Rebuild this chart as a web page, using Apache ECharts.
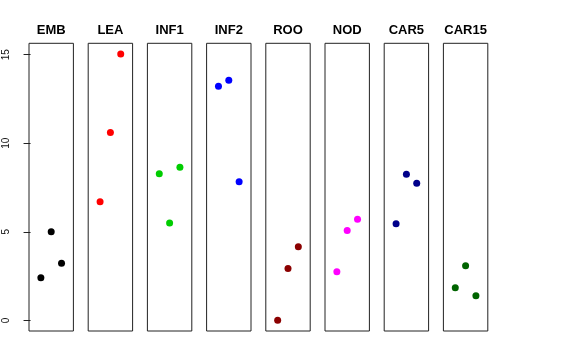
<!DOCTYPE html>
<html><head><meta charset="utf-8">
<script src="https://cdn.jsdelivr.net/npm/echarts@6/dist/echarts.min.js"></script>
<style>html,body{margin:0;padding:0;background:#fff}#c{width:576px;height:360px}</style>
</head><body><div id="c"></div>
<script>
const panels = ['EMB','LEA','INF1','INF2','ROO','NOD','CAR5','CAR15'];
const xPos = [1, 2, 3];
const EMB = [2.40, 5.00, 3.23];
const LEA = [6.69, 10.60, 15.04];
const INF1 = [8.27, 5.50, 8.64];
const INF2 = [13.21, 13.55, 7.82];
const ROO = [0.00, 2.93, 4.15];
const NOD = [2.74, 5.07, 5.71];
const CAR5 = [5.45, 8.25, 7.74];
const CAR15 = [1.84, 3.08, 1.39];
const yTicks = [0, 5, 10, 15];
const values = [EMB, LEA, INF1, INF2, ROO, NOD, CAR5, CAR15];
const colors = ['#000000','#FF0000','#00CD00','#0000FF','#8B0000','#FF00FF','#00008B','#006400'];

const chart = echarts.init(document.getElementById('c'), null, {renderer:'canvas'});
const L0 = 29, STEP = 59.2, W = 44.4, TOP = 43.3, H = 287.7;
const grids = [], xAxes = [], yAxes = [], series = [], titles = [];
panels.forEach((p, i) => {
  const left = L0 + i * STEP;
  grids.push({left: left, top: TOP, width: W, height: H, show: true, borderColor: '#222', borderWidth: 1, backgroundColor: 'transparent'});
  xAxes.push({gridIndex: i, type: 'value', min: -0.15, max: 4.15, show: false});
  yAxes.push({gridIndex: i, type: 'value', min: -0.6, max: 15.64, show: i === 0,
    axisLine: {show: false}, splitLine: {show: false},
    axisTick: {show: true, inside: false, length: 7, lineStyle: {color: '#222'}, customValues: yTicks},
    axisLabel: {show: true, rotate: 90, margin: 18, color: '#111', fontSize: 10, fontFamily: 'Liberation Sans, Arial, sans-serif', customValues: yTicks}
  });
  titles.push({text: p, left: left + W / 2, top: 24, padding: 0, textAlign: 'center',
    textStyle: {fontSize: 13, fontWeight: 'bold', color: '#000', fontFamily: 'Liberation Sans, Arial, sans-serif'}});
  series.push({type: 'scatter', xAxisIndex: i, yAxisIndex: i, symbolSize: 7,
    itemStyle: {color: colors[i], opacity: 1}, data: xPos.map((x, j) => [x, values[i][j]]), animation: false});
});
chart.setOption({animation: false, title: titles, grid: grids, xAxis: xAxes, yAxis: yAxes, series: series});
</script></body></html>
